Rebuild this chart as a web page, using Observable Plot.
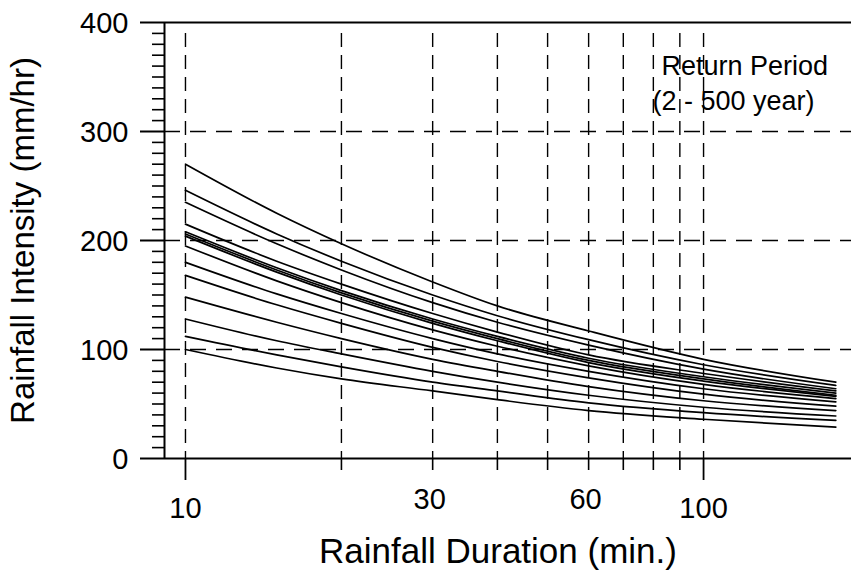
<!DOCTYPE html>
<html>
<head>
<meta charset="utf-8">
<script src="https://cdn.jsdelivr.net/npm/d3@7"></script>
<script src="https://cdn.jsdelivr.net/npm/@observablehq/plot@0.6"></script>
<style>
  html, body { margin: 0; padding: 0; background: #fff; }
  #chart { width: 851px; height: 570px; }
</style>
</head>
<body>
<div id="chart"></div>
<script>
// ---- data ----
const durations = [10, 15, 20, 30, 40, 60, 100, 180];   // min

const curve01 = [270, 225, 197, 162, 140, 117, 91, 70];
const curve02 = [246, 206, 181, 150, 131, 109, 86, 67];
const curve03 = [235, 197, 173, 143, 125, 104, 82, 64];
const curve04 = [215, 181, 160, 133, 116, 95, 78, 62];
const curve05 = [208, 175, 154, 128, 112, 92, 75, 60];
const curve06 = [206, 173, 152, 126, 110, 90, 73, 58];
const curve07 = [204, 171, 150, 124, 108, 88, 71, 57];
const curve08 = [195, 163, 143, 118, 103, 85, 68, 55];
const curve09 = [180, 151, 133, 110, 96, 80, 64, 52];
const curve10 = [168, 141, 124, 102, 89, 74, 59, 48];
const curve11 = [148, 125, 110, 91, 80, 66, 53, 44];
const curve12 = [128, 108, 96, 80, 70, 58, 47, 39];
const curve13 = [112, 95, 84, 70, 62, 51, 42, 35];
const curve14 = [100, 83, 73, 62, 54, 44, 36, 28.7];

const curves = [curve01, curve02, curve03, curve04, curve05, curve06, curve07,
                curve08, curve09, curve10, curve11, curve12, curve13, curve14];

const xDomain = [9.11, 193];
const yDomain = [0, 400];
const xGrid = [10, 20, 30, 40, 50, 60, 70, 80, 90, 100];
const gridTop = 390;
const yGrid = [100, 200, 300];
const yMajorTicks = [0, 100, 200, 300, 400];
const yMinorTicks = d3.range(10, 400, 10).filter(v => v % 100 !== 0);
const xMajorLabeled = [10, 100];
const xMinorLabeled = [30, 60];
const xMinorTicks = [20, 30, 40, 50, 60, 70, 80, 90];

const xTitle = "Rainfall Duration (min.)";
const yTitle = "Rainfall Intensity (mm/hr)";
const legendLine1 = "Return Period";
const legendLine2 = "(2 - 500 year)";

const rows = [];
curves.forEach((vals, i) => {
  vals.forEach((v, j) => rows.push({series: i, duration: durations[j], intensity: v}));
});

const fmt = d => String(d);
const noLabel = () => "";

const chart = Plot.plot({
  width: 851,
  height: 570,
  marginLeft: 164,
  marginRight: 0,
  marginTop: 22,
  marginBottom: 112,
  style: {fontFamily: "'Liberation Sans', Arial, sans-serif", color: "#000", background: "#fff", overflow: "visible"},
  x: {type: "log", domain: xDomain, label: null},
  y: {domain: yDomain, label: null},
  marks: [
    Plot.ruleY(yGrid, {stroke: "#000", strokeWidth: 1.4, strokeDasharray: "16,10"}),
    Plot.ruleX(xGrid, {y1: gridTop, y2: 0, stroke: "#000", strokeWidth: 1.4, strokeDasharray: "14,8"}),
    Plot.line(rows, {x: "duration", y: "intensity", z: "series", curve: "monotone-x", stroke: "#000", strokeWidth: 1.7}),
    Plot.ruleY([yDomain[0], yDomain[1]], {stroke: "#000", strokeWidth: 2}),
    Plot.ruleX([xDomain[0]], {stroke: "#000", strokeWidth: 2}),
    // ticks
    Plot.axisY(yMajorTicks, {tickSize: 24, tickFormat: noLabel, strokeWidth: 2}),
    Plot.axisY(yMinorTicks, {tickSize: 12, tickFormat: noLabel, strokeWidth: 1.6}),
    Plot.axisX(xMinorTicks, {tickSize: 12, tickFormat: noLabel, strokeWidth: 1.6}),
    Plot.axisX(xMajorLabeled, {tickSize: 22, tickFormat: noLabel, strokeWidth: 1.8}),
    // tick labels
    Plot.text(yMajorTicks, {y: d => d, text: fmt, frameAnchor: "left", textAnchor: "end", dx: -36, dy: 1, lineAnchor: "middle", fontSize: 29}),
    Plot.text(xMajorLabeled, {x: d => d, text: fmt, frameAnchor: "bottom", textAnchor: "middle", dy: 50, lineAnchor: "middle", fontSize: 29}),
    Plot.text(xMinorLabeled, {x: d => d, text: fmt, frameAnchor: "bottom", textAnchor: "middle", dx: -3, dy: 41, lineAnchor: "middle", fontSize: 29}),
    // titles
    Plot.text([xTitle], {text: d => d, frameAnchor: "bottom", textAnchor: "middle", dx: -10, dy: 93, lineAnchor: "middle", fontSize: 35}),
    Plot.text([yTitle], {text: d => d, frameAnchor: "left", textAnchor: "middle", rotate: -90, dx: -141, lineAnchor: "middle", fontSize: 33}),
    Plot.text([legendLine1], {text: d => d, frameAnchor: "top-right", textAnchor: "start", dx: -190, dy: 33, lineAnchor: "top", fontSize: 27}),
    Plot.text([legendLine2], {text: d => d, frameAnchor: "top-right", textAnchor: "start", dx: -199, dy: 68, lineAnchor: "top", fontSize: 27})
  ]
});
document.getElementById("chart").appendChild(chart);
</script>
</body>
</html>
